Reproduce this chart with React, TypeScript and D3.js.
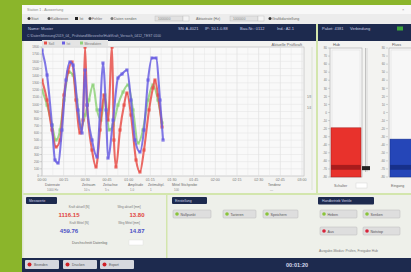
import React from 'react'
import * as d3 from 'd3'

const FONT = 'Liberation Sans, Arial, sans-serif'

// time axis in seconds
const timeTicks = [0, 15, 30, 45, 60, 75, 90, 105, 120, 135, 150, 165, 180]
const timeLabels = ['00:00', '00:15', '00:30', '00:45', '01:00', '01:15', '01:30', '01:45', '02:00', '02:15', '02:30', '02:45', '03:00']
const forceTicks = [0, 100, 200, 300, 400, 500, 600, 700, 800, 900, 1000, 1100, 1200, 1300, 1400, 1500, 1600, 1700, 1800]

// [t (s), force (N)]
const soll: [number, number][] = [
  [0, 1339], [3.5, 1060], [6.9, 642], [9.7, 405], [12.5, 502], [15.2, 1130], [18, 1451], [20.8, 1590],
  [23.5, 1060], [26.3, 600], [28.4, 781], [29.8, 1800], [31.2, 990], [34.6, 363], [37.4, 126], [40.2, 642],
  [42.9, 1130], [45.7, 781], [48.5, 1800], [49.8, 502], [51.2, 126], [54, 642], [56.8, 990], [58.8, 1158],
  [61.6, 851], [65.1, 223], [67.8, 56], [70.6, 363], [74.1, 921], [76.8, 1228], [78.2, 1339], [80.3, 1130], [83.1, 684],
]
const ist: [number, number][] = [
  [0, 1758], [3.5, 1409], [6.9, 711], [9, 223], [11.1, 181], [13.8, 642], [16.6, 1339], [19.4, 1590],
  [21.5, 1548], [24.9, 921], [27.7, 600], [29.8, 1479], [31.2, 990], [34.6, 502], [38.1, 265], [40.2, 921],
  [42.2, 1576], [44.3, 921], [45.7, 251], [49.2, 781], [52.6, 1367], [55.4, 1423], [58.8, 1479], [61.6, 1060],
  [64.4, 502], [67.8, 335], [70.6, 642], [73.4, 1339], [76.2, 1646], [78.9, 1646], [81.7, 1060], [83.8, 502],
]
const mess: [number, number][] = [
  [0, 1200], [3.5, 990], [6.9, 711], [9.7, 502], [12.5, 642], [15.2, 1060], [18.7, 1451], [21.5, 1409],
  [24.2, 1060], [27, 670], [29.8, 851], [32.5, 1060], [35.3, 1270], [38.1, 921], [40.8, 781], [43.6, 1130],
  [46.4, 642], [49.2, 711], [52.6, 990], [56.1, 1172], [59.5, 1270], [63, 921], [66.5, 460], [69.9, 642],
  [73.4, 1060], [76.8, 1270], [80.3, 1060], [83.1, 739],
]
const seriesNames = ['Soll', 'Ist', 'Messdaten']
const seriesColors = ['#e8504a', '#6a5fe2', '#8fd27a']

// gauges
const gaugeTicks = [-80, -70, -60, -50, -40, -30, -20, -10, 0, 10, 20, 30, 40, 50, 60, 70, 80]
const gaugeNames = ['Hub', 'Fluss']
const gaugeValues = [-19, -33]
const limitBand = [-71, -65]
const sliderValue = -69

// measured values panel
const messLabels = ['Kraft aktuell [N]', 'Weg aktuell [mm]', 'Kraft Mittel [N]', 'Weg Mittel [mm]']
const messValues = ['1116.15', '13.80', '459.76', '14.87']

const NAVY = '#1d2a4e'
const PANEL = '#f3f3f1'
const LGREEN = '#d3e6ad'

function Txt(p: { x: number; y: number; s?: number; c?: string; a?: string; w?: string; children: React.ReactNode }) {
  return (
    <text x={p.x} y={p.y} fontSize={p.s ?? 4} fill={p.c ?? '#666'} textAnchor={p.a ?? 'start'}
      fontWeight={p.w ?? 'normal'} fontFamily={FONT}>{p.children}</text>
  )
}

function Button({ x, y, w, dot, label }: { x: number; y: number; w: number; dot: string; label: string }) {
  return (
    <g>
      <rect x={x} y={y} width={w} height={8} rx={1} fill="#dedede" stroke="#b8b8b8" strokeWidth={0.5} />
      <circle cx={x + 4} cy={y + 4} r={1.8} fill={dot} />
      <Txt x={x + 7.5} y={y + 5.5} s={3.6} c="#555">{label}</Txt>
    </g>
  )
}

function Gauge({ x0, w, name, value, labelX }: { x0: number; w: number; name: string; value: number; labelX: number }) {
  const gy = d3.scaleLinear().domain([-80, 80]).range([177, 48])
  const fill = name === 'Hub' ? '#e8322c' : '#2546b8'
  const dark = name === 'Hub' ? '#a81c1c' : '#17308a'
  return (
    <g>
      <Txt x={x0 + 3} y={45.5} s={3.8} c="#555">{name}</Txt>
      <rect x={x0} y={48} width={w} height={129} fill="#f7f7f7" stroke="#a8a8a8" strokeWidth={0.6} />
      <rect x={x0 + 2} y={50} width={w - 4} height={125} fill="none" stroke="#dcdcdc" strokeWidth={0.5} />
      {gaugeTicks.map((t) => (
        <g key={t}>
          <line x1={labelX + 1} x2={labelX + 3} y1={gy(t)} y2={gy(t)} stroke="#999" strokeWidth={0.4} />
          <Txt x={labelX} y={gy(t) + 1.2} s={3} c="#777" a="end">{t}</Txt>
        </g>
      ))}
      <rect x={x0 + 1} y={gy(value)} width={w - 2} height={gy(-80) - gy(value)} fill={fill} stroke={dark} strokeWidth={0.5} />
      <rect x={x0 + 1} y={gy(limitBand[1])} width={w - 2} height={gy(limitBand[0]) - gy(limitBand[1])} fill={dark} />
    </g>
  )
}

export default function App() {
  const x = d3.scaleLinear().domain([0, 180]).range([42, 302])
  const y = d3.scaleLinear().domain([0, 1800]).range([176, 47])
  const line = d3.line<[number, number]>().x((d) => x(d[0])).y((d) => y(d[1])).curve(d3.curveMonotoneX)
  const minor = d3.range(0, 181, 7.5)
  const gy = d3.scaleLinear().domain([-80, 80]).range([177, 48])
  const data = [soll, ist, mess]
  const order = [2, 0, 1]

  return (
    <svg width={411} height={272} style={{ position: 'absolute', left: 0, top: 0 }}>
      <defs>
        <clipPath id="plot"><rect x={42} y={47} width={262} height={129} /></clipPath>
      </defs>
      <rect width={411} height={272} fill="#8bb52b" />
      <rect x={22} y={5} width={389} height={267} fill="#efefef" />

      {/* title bar + toolbar */}
      <rect x={22} y={5} width={389} height={9} fill="#f8f8f8" />
      <Txt x={27} y={11} s={3.6} c="#888">Station 1 - Auswertung</Txt>
      <Txt x={402} y={11} s={4} c="#999">×</Txt>
      <rect x={22} y={14} width={389} height={10} fill="#ececec" />
      <circle cx={29} cy={18.5} r={1.5} fill="#333" /><Txt x={31} y={20} s={3.6} c="#666">Start</Txt>
      <circle cx={49} cy={18.5} r={1.5} fill="#555" /><Txt x={51} y={20} s={3.6} c="#666">Kalibrieren</Txt>
      <rect x={75} y={17} width={3} height={3} fill="#222" /><Txt x={79.5} y={20} s={3.6} c="#666">Ist</Txt>
      <circle cx={90} cy={18.5} r={1.5} fill="#555" /><Txt x={92} y={20} s={3.6} c="#666">Fehler</Txt>
      <circle cx={112} cy={18.5} r={1.5} fill="#777" /><Txt x={114} y={20} s={3.6} c="#666">Daten senden</Txt>
      <rect x={155} y={16} width={28} height={5} fill="#e2e2e2" stroke="#bbb" strokeWidth={0.4} />
      <Txt x={158} y={20} s={3.2} c="#888">1000000</Txt>
      <rect x={183} y={16} width={6} height={5} fill="#f4f4f4" stroke="#bbb" strokeWidth={0.4} />
      <Txt x={196} y={20} s={3.6} c="#666">Abtastrate (Hz)</Txt>
      <rect x={230} y={16} width={28} height={5} fill="#e2e2e2" stroke="#bbb" strokeWidth={0.4} />
      <Txt x={233} y={20} s={3.2} c="#888">1000000</Txt>
      <rect x={258} y={16} width={6} height={5} fill="#f4f4f4" stroke="#bbb" strokeWidth={0.4} />
      <circle cx={270} cy={18.5} r={1.5} fill="#333" /><Txt x={272} y={20} s={3.6} c="#666">Grafikdarstellung</Txt>

      {/* navy header */}
      <rect x={22} y={24} width={389} height={17} fill={NAVY} />
      <Txt x={28} y={30} s={4} c="#c9cde2">Name: Muster</Txt>
      <Txt x={178} y={30} s={4} c="#c9cde2">SN: A-4021</Txt>
      <Txt x={205} y={30} s={4} c="#c9cde2">IP: 10.1.0.88</Txt>
      <Txt x={240} y={30} s={4} c="#c9cde2">Bau-Nr.: 0112</Txt>
      <Txt x={277} y={30} s={4} c="#c9cde2">Ind.: A2.1</Txt>
      <Txt x={27} y={37} s={3.4} c="#aeb3cc">C:\Daten\Messung\2019_04_ Prüfstand\Messreihe\Hub\Kraft_Versuch_0412_TEST 0100</Txt>
      <Txt x={322} y={30} s={4} c="#c9cde2">Paket: 4381</Txt>
      <Txt x={350} y={30} s={4} c="#c9cde2">Verbindung</Txt>
      <rect x={397} y={26.5} width={6} height={4} fill="#3ea53a" />

      {/* panels */}
      <rect x={22} y={41} width={294} height={152} fill={PANEL} />
      <rect x={318} y={41} width={93} height={152} fill={PANEL} />
      <rect x={316} y={24} width={2} height={234} fill={LGREEN} />
      <rect x={22} y={193} width={389} height={2} fill={LGREEN} />
      <rect x={22} y={195} width={389} height={63} fill="#eef0ea" />
      <rect x={166} y={195} width={1.5} height={63} fill={LGREEN} />
      <rect x={22} y={41} width={1.5} height={217} fill="#dfe6d2" />

      {/* legend */}
      <rect x={42} y={40} width={66} height={6} fill="#e4e4e4" />
      {seriesNames.map((n, i) => (
        <g key={n}>
          <rect x={44 + i * 18} y={41.5} width={3} height={3} fill={seriesColors[i]} />
          <Txt x={48.5 + i * 18} y={44.6} s={3.4} c="#777">{n}</Txt>
        </g>
      ))}
      <Txt x={302} y={45.5} s={4} c="#666" a="end">Aktuelle Prüfkraft</Txt>

      {/* plot */}
      <rect x={42} y={47} width={262} height={129} fill="#f9f9f9" stroke="#b5b5b5" strokeWidth={0.6} />
      {minor.map((t) => (
        <line key={'v' + t} x1={x(t)} x2={x(t)} y1={47} y2={176} stroke={t % 15 === 0 ? '#d6d6d6' : '#e6e6e6'} strokeWidth={0.5} />
      ))}
      {forceTicks.map((v) => (
        <g key={'h' + v}>
          <line x1={42} x2={304} y1={y(v)} y2={y(v)} stroke="#e2e2e2" strokeWidth={0.5} />
          <line x1={39.5} x2={42} y1={y(v)} y2={y(v)} stroke="#999" strokeWidth={0.4} />
          <Txt x={39} y={y(v) + 1.2} s={3} c="#777" a="end">{v}</Txt>
        </g>
      ))}
      {timeTicks.map((t, i) => (
        <Txt key={'x' + t} x={x(t)} y={181} s={3.6} c="#777" a="middle">{timeLabels[i]}</Txt>
      ))}
      <g clipPath="url(#plot)">
        {order.map((i) => (
          <g key={'s' + i}>
            <path d={line(data[i]) ?? ''} fill="none" stroke={seriesColors[i]} strokeWidth={2.1} strokeOpacity={0.85} />
            {data[i].map((d, k) => (
              <rect key={k} x={x(d[0]) - 1.6} y={y(d[1]) - 1.6} width={3.2} height={3.2} fill={seriesColors[i]} opacity={0.8} />
            ))}
          </g>
        ))}
      </g>
      <line x1={312} x2={312} y1={47} y2={190} stroke="#cfd9c0" strokeWidth={0.6} />
      <Txt x={309} y={98} s={3} c="#777" a="middle">1/8</Txt>
      <Txt x={309} y={109} s={3} c="#777" a="middle">1/4</Txt>

      {/* under-plot settings row */}
      {['Datenrate', 'Zeitraum', 'Zeitachse', 'Amplitude', 'Zeitmultipl.', 'Mittel Stichprobe'].map((s, i) => (
        <Txt key={s} x={[45, 82, 103, 128, 148, 172][i]} y={185.5} s={3.4} c="#666">{s}</Txt>
      ))}
      {['1000 Hz', '10 s', '5 s', '1.0', '1', '100'].map((s, i) => (
        <Txt key={'v' + i} x={[47, 84, 105, 130, 150, 174][i]} y={190.5} s={3} c="#888">{s}</Txt>
      ))}
      <Txt x={268} y={185.5} s={3.4} c="#666">Tendenz</Txt>
      <Txt x={270} y={190.5} s={3} c="#888">—</Txt>

      {/* gauges */}
      <Gauge x0={330} w={32} name={gaugeNames[0]} value={gaugeValues[0]} labelX={327} />
      <Gauge x0={389} w={30} name={gaugeNames[1]} value={gaugeValues[1]} labelX={385} />
      <line x1={365.5} x2={365.5} y1={48} y2={172} stroke="#a0a0a0" strokeWidth={0.6} />
      <line x1={367} x2={367} y1={48} y2={172} stroke="#c8c8c8" strokeWidth={0.6} />
      <rect x={362} y={gy(sliderValue) - 2} width={8} height={4} fill="#222" />
      <Txt x={334} y={187} s={3.6} c="#666">Schalter</Txt>
      <rect x={356} y={183} width={11} height={5} fill="#fff" stroke="#ccc" strokeWidth={0.4} />
      <Txt x={391} y={187} s={3.6} c="#666">Eingang</Txt>

      {/* Messwerte panel */}
      <rect x={26} y={197} width={31} height={7} rx={1} fill={NAVY} />
      <Txt x={29} y={202} s={3.4} c="#d0d4e6">Messwerte</Txt>
      {messLabels.map((l, i) => (
        <g key={l}>
          <Txt x={i % 2 === 0 ? 79 : 129} y={i < 2 ? 208 : 224} s={3} c="#777" a="middle">{l}</Txt>
          <Txt x={i % 2 === 0 ? 69 : 137} y={i < 2 ? 217 : 232.5} s={6} w="bold" c={i < 2 ? '#e0453c' : '#4a4fc4'} a="middle">{messValues[i]}</Txt>
        </g>
      ))}
      <Txt x={72} y={243.5} s={3.6} c="#666">Durchschnitt Datenlog</Txt>
      <rect x={129} y={240} width={14} height={5} fill="#fff" stroke="#ddd" strokeWidth={0.4} />

      {/* Einstellungen panel */}
      <rect x={172} y={197} width={35} height={7} rx={1} fill={NAVY} />
      <Txt x={175} y={202} s={3.4} c="#d0d4e6">Einstellung</Txt>
      <Button x={173} y={210} w={38} dot="#8ac43a" label="Nullpunkt" />
      <Button x={223} y={210} w={33} dot="#8ac43a" label="Tarieren" />
      <Button x={263} y={210} w={35} dot="#8ac43a" label="Speichern" />

      {/* Handbetrieb panel */}
      <rect x={318} y={197} width={56} height={7.5} rx={1} fill={NAVY} />
      <Txt x={322} y={202.3} s={3.4} c="#d0d4e6">Handbetrieb Ventile</Txt>
      <Button x={320} y={210} w={37} dot="#8ac43a" label="Heben" />
      <Button x={363} y={210} w={37} dot="#8ac43a" label="Senken" />
      <Button x={320} y={227} w={37} dot="#d8243a" label="Aus" />
      <Button x={363} y={227} w={37} dot="#d8243a" label="Notstop" />
      <Txt x={319} y={252} s={3.4} c="#777">Ausgabe-Modus: Prüfen, Freigabe Hub</Txt>

      {/* bottom bar */}
      <rect x={22} y={258} width={389} height={14} fill={NAVY} />
      {['Beenden', 'Drucken', 'Export'].map((s, i) => (
        <g key={s}>
          <rect x={[25, 63, 100][i]} y={260} width={34} height={9} rx={1} fill="#d6d8de" />
          <circle cx={[25, 63, 100][i] + 4.5} cy={264.5} r={2} fill="#d02128" />
          <Txt x={[25, 63, 100][i] + 9} y={266} s={3.4} c="#555">{s}</Txt>
        </g>
      ))}
      <Txt x={297} y={267} s={5.5} w="bold" c="#d9ddf0" a="middle">00:01:20</Txt>
    </svg>
  )
}
